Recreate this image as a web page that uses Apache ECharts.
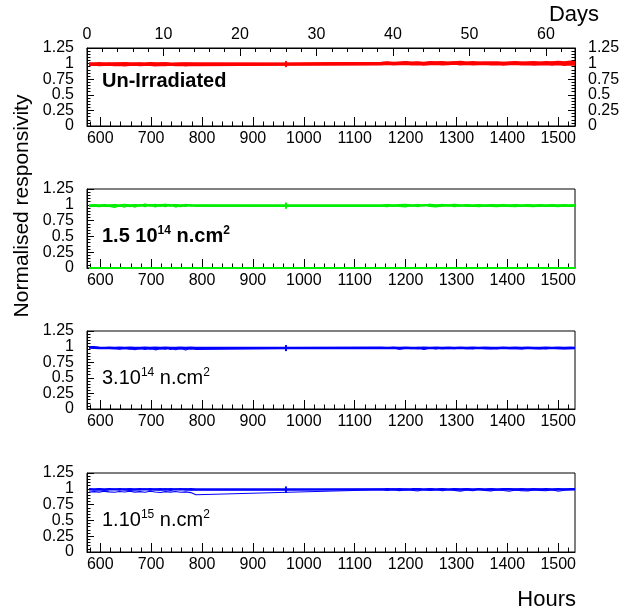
<!DOCTYPE html>
<html><head><meta charset="utf-8">
<script src="https://cdn.jsdelivr.net/npm/echarts@6/dist/echarts.min.js"></script>
<style>html,body{margin:0;padding:0;background:#fff}#c{width:626px;height:614px}</style>
</head><body><div id="c"></div><script>
// ---------------- DATA ----------------
// measurement times (hours): early run, one isolated point, late run
const hours = [578,588,598,608,618,628,638,648,658,668,678,688,698,708,718,728,738,748,758,768,778,788,
  965,
  1152,1164,1176,1188,1200,1212,1224,1236,1248,1260,1272,1284,1296,1308,1320,1332,1344,1356,1368,1380,1392,1404,1416,1428,1440,1452,1464,1476,1488,1500,1512,1524,1533];

// Un-Irradiated (red)
const red1 = [0.985,0.990,0.982,0.988,0.993,0.985,0.990,0.984,0.992,0.987,0.983,0.990,0.986,0.992,0.985,0.989,0.983,0.990,0.986,0.991,0.985,0.988,
  0.990,
  0.998,1.004,0.996,1.002,1.008,0.999,1.003,0.997,1.006,1.001,0.998,1.005,1.002,0.997,1.004,1.000,0.996,1.003,1.007,1.000,0.998,1.004,0.999,1.002,0.997,1.003,1.000,0.996,1.005,0.998,1.002,0.995,1.000];
const red2 = [0.996,1.000,0.994,0.999,1.003,0.995,1.001,0.997,0.993,1.002,0.998,0.994,1.001,0.996,1.003,0.997,0.993,1.000,0.996,1.002,0.995,0.999,
  0.995,
  1.006,1.012,1.004,1.010,1.015,1.007,1.011,1.003,1.009,1.014,1.006,1.010,1.017,1.008,1.012,1.005,1.011,1.008,1.013,1.006,1.010,1.004,1.009,1.012,1.005,1.008,1.011,1.004,1.010,1.015,1.006,1.018,1.008];
const red3 = [0.978,0.983,0.975,0.981,0.986,0.977,0.982,0.974,0.980,0.985,0.976,0.982,0.979,0.973,0.981,0.977,0.984,0.976,0.980,0.974,0.982,0.978,
  0.985,
  0.990,0.995,0.987,0.993,0.998,0.989,0.994,0.986,0.992,0.997,0.988,0.993,0.999,0.990,0.995,0.987,0.992,0.996,0.989,0.994,0.986,0.991,0.995,0.988,0.993,0.985,0.990,0.994,0.984,0.991,0.980,0.988,0.983];
const red4 = [1.002,0.997,1.005,1.000,0.995,1.003,0.998,1.006,1.001,0.996,1.004,0.999,1.007,1.002,0.997,1.005,1.000,0.996,1.003,0.998,1.004,1.000,
  1.000,
  1.012,1.018,1.010,1.016,1.022,1.013,1.019,1.011,1.024,1.017,1.021,1.014,1.020,1.026,1.016,1.022,1.015,1.019,1.013,1.018,1.012,1.017,1.021,1.014,1.019,1.023,1.016,1.024,1.018,1.027,1.020,1.030,1.022];

// 1.5e14 n/cm2 (green)
const green1 = [0.985,0.982,0.988,0.980,0.986,0.990,0.975,0.995,0.970,1.000,0.978,1.010,0.985,1.005,0.975,1.008,0.982,1.002,0.972,1.006,0.980,0.992,
  0.985,
  0.985,0.998,0.978,0.992,1.002,0.980,0.995,0.985,1.005,0.990,1.008,0.982,1.000,0.978,0.995,0.985,0.990,0.980,0.988,0.993,0.982,0.990,0.986,0.980,0.992,0.985,0.978,0.990,0.984,0.988,0.980,0.992,0.986];
const green2 = [0.975,0.978,0.972,0.980,0.974,0.960,0.985,0.965,0.995,0.962,0.998,0.970,1.002,0.968,0.995,0.972,1.000,0.965,0.990,0.975,0.998,0.978,
  0.980,
  0.978,0.970,0.990,0.975,0.968,0.992,0.972,1.000,0.975,0.968,0.985,0.996,0.970,0.988,0.975,0.980,0.972,0.985,0.976,0.970,0.982,0.975,0.970,0.984,0.976,0.972,0.985,0.975,0.980,0.970,0.982,0.975,0.978];
const green3 = [0.990,0.992,0.988,0.993,0.989,0.994,0.990,0.996,0.988,0.995,0.991,0.997,0.989,0.994,0.992,0.996,0.990,0.995,0.988,0.993,0.991,0.989,
  0.988,
  0.990,0.994,0.988,0.993,0.997,0.989,0.995,0.991,0.998,0.990,0.994,0.988,0.996,0.991,0.993,0.989,0.995,0.990,0.993,0.988,0.994,0.990,0.992,0.988,0.995,0.990,0.993,0.989,0.994,0.990,0.992,0.988,0.993];
const greenDeadHours = [578, 1533];
const greenDeadValues = [0, 0];

// 3e14 n/cm2 (blue)
const blueA1 = [1.000,0.998,0.985,0.975,0.970,0.978,0.965,0.980,0.960,0.975,0.962,0.982,0.958,0.978,0.965,0.985,0.955,0.975,0.962,0.985,0.958,0.970,
  0.975,
  0.975,0.970,0.988,0.965,0.980,0.972,0.990,0.960,0.985,0.970,0.978,0.965,0.982,0.972,0.978,0.968,0.980,0.972,0.976,0.968,0.978,0.972,0.975,0.968,0.976,0.970,0.975,0.968,0.977,0.971,0.975,0.970,0.975];
const blueA2 = [0.995,0.990,0.982,0.978,0.975,0.970,0.958,0.972,0.965,0.950,0.970,0.955,0.975,0.948,0.968,0.958,0.978,0.950,0.970,0.945,0.975,0.955,
  0.972,
  0.970,0.985,0.978,0.960,0.975,0.968,0.982,0.955,0.978,0.962,0.985,0.970,0.968,0.978,0.970,0.965,0.975,0.968,0.972,0.965,0.974,0.968,0.972,0.965,0.974,0.968,0.972,0.966,0.974,0.968,0.972,0.967,0.972];
const blueA3 = [0.986,0.983,0.979,0.977,0.980,0.976,0.979,0.978,0.981,0.976,0.978,0.980,0.975,0.979,0.977,0.981,0.976,0.978,0.980,0.975,0.979,0.977,
  0.978,
  0.979,0.977,0.981,0.976,0.980,0.978,0.975,0.980,0.977,0.982,0.976,0.979,0.978,0.981,0.975,0.979,0.977,0.980,0.976,0.978,0.981,0.977,0.979,0.975,0.980,0.978,0.976,0.981,0.977,0.979,0.976,0.980,0.978];

// 1e15 n/cm2 (blue)
const blueB1 = [0.950,0.955,0.948,0.960,0.952,0.945,0.958,0.950,0.962,0.948,0.955,0.945,0.960,0.950,0.942,0.955,0.948,0.958,0.945,0.952,0.940,0.905,
  null,
  0.985,0.975,0.990,0.970,0.985,0.978,0.965,0.988,0.975,0.990,0.968,0.985,0.975,0.962,0.982,0.970,0.988,0.975,0.965,0.985,0.972,0.960,0.980,0.970,0.965,0.982,0.975,0.968,0.985,0.960,0.978,0.985,0.990];
const blueB2 = [0.995,0.985,1.000,0.975,0.990,0.995,0.980,0.998,0.975,0.992,0.985,1.000,0.978,0.995,0.982,1.002,0.975,0.998,0.985,1.000,0.980,0.990,
  0.985,
  0.995,0.990,1.000,0.985,0.998,0.992,1.002,0.988,0.996,0.990,1.000,0.985,0.995,0.992,0.998,0.986,0.995,0.990,0.998,0.984,0.994,0.990,0.996,0.985,0.993,0.990,0.997,0.986,0.994,0.990,0.996,0.988,0.995];
const blueB3 = [0.992,0.990,0.994,0.989,0.993,0.991,0.995,0.990,0.993,0.989,0.994,0.991,0.995,0.990,0.993,0.989,0.994,0.991,0.995,0.990,0.992,0.990,
  0.990,
  0.991,0.993,0.989,0.994,0.990,0.992,0.995,0.990,0.993,0.989,0.994,0.991,0.993,0.990,0.995,0.991,0.993,0.989,0.994,0.990,0.992,0.994,0.990,0.993,0.989,0.994,0.991,0.993,0.990,0.994,0.991,0.993,0.992];

// tick labels
const hourTickLabels = [600,700,800,900,1000,1100,1200,1300,1400,1500];
const dayTickLabels = [0,10,20,30,40,50,60];
const yTickLabels = [0,0.25,0.5,0.75,1,1.25];
const panelLabels = ['Un-Irradiated', '1.5 10{14} n.cm{2}', '3.10{14} n.cm{2}', '1.10{15} n.cm{2}'];

// ---------------- LAYOUT / STYLE ----------------
const FONT = '"Liberation Sans", Arial, Helvetica, sans-serif';
const HOUR_MIN = 574, HOUR_MAX = 1533;
const DAY_MAX = 63.8;
const GL = 87, GR = 51;
const panelTops = [48, 189, 331, 473];
const panelHeights = [78, 79, 78, 79];
const RED = '#ff0000', GREEN = '#00ee00', BLUE = '#0000ff';

const hourMinor = [];
for (let h = 580; h <= 1520; h += 20) if (h % 100 !== 0) hourMinor.push(h);
const dayMinor = [];
for (let d = 2; d <= 62; d += 2) if (d % 10 !== 0) dayMinor.push(d);
// y labels split over two overlaid axes so that none is dropped as "overlapping"
const yLabelsEven = yTickLabels.filter((v, i) => i % 2 === 0);
const yLabelsOdd = yTickLabels.filter((v, i) => i % 2 === 1);

const grids = [], xAxes = [], yAxes = [], series = [];
const mainX = [], mainY = [];
const tickLbl = {fontSize: 16, color: '#000', fontFamily: FONT, hideOverlap: false, formatter: v => String(v)};
const black = {color: '#000', width: 1};

function yAxisDef(gi, pos, labels, withTicks) {
  return {type: 'value', gridIndex: gi, position: pos, min: 0, max: 1.25,
    axisLine: {show: withTicks, onZero: false, lineStyle: black},
    axisTick: {show: withTicks, inside: true, length: 7, customValues: yTickLabels, lineStyle: black},
    minorTick: {show: withTicks, splitNumber: 5, length: 3.5, lineStyle: black},
    axisLabel: Object.assign({show: true, margin: 13, customValues: labels, showMinLabel: true, showMaxLabel: true}, tickLbl),
    interval: 0.25,
    splitLine: {show: false}, minorSplitLine: {show: false}};
}

for (let p = 0; p < 4; p++) {
  const gMain = grids.length;
  grids.push({left: GL, right: GR, top: panelTops[p], height: panelHeights[p], show: true, borderColor: '#000', borderWidth: 1, backgroundColor: 'transparent'});
  const gMinor = grids.length;
  grids.push({left: GL, right: GR, top: panelTops[p], height: panelHeights[p], show: false});

  mainX[p] = xAxes.length;
  xAxes.push({type: 'value', gridIndex: gMain, position: 'bottom', min: HOUR_MIN, max: HOUR_MAX,
    axisLine: {show: true, onZero: false, lineStyle: black},
    axisTick: {show: true, inside: true, length: 9, customValues: hourTickLabels, lineStyle: black},
    axisLabel: Object.assign({show: true, margin: 5, customValues: hourTickLabels}, tickLbl),
    splitLine: {show: false}});
  xAxes.push({type: 'value', gridIndex: gMinor, position: 'bottom', min: HOUR_MIN, max: HOUR_MAX,
    axisLine: {show: false, onZero: false},
    axisTick: {show: true, inside: true, length: 4.5, customValues: hourMinor, lineStyle: black},
    axisLabel: {show: false}, splitLine: {show: false}});
  if (p === 0) {
    xAxes.push({type: 'value', gridIndex: gMinor, position: 'top', min: 0, max: DAY_MAX,
      axisLine: {show: false, onZero: false},
      axisTick: {show: true, inside: true, length: 4, customValues: dayMinor, lineStyle: black},
      axisLabel: {show: false}, splitLine: {show: false}});
    xAxes.push({type: 'value', gridIndex: gMain, position: 'top', min: 0, max: DAY_MAX,
      axisLine: {show: true, onZero: false, lineStyle: black},
      axisTick: {show: true, inside: true, length: 8, customValues: dayTickLabels, lineStyle: black},
      axisLabel: Object.assign({show: true, margin: 5, customValues: dayTickLabels}, tickLbl),
      splitLine: {show: false}});
  }
  mainY[p] = yAxes.length;
  yAxes.push(yAxisDef(gMain, 'left', yLabelsEven, true));
  yAxes.push(yAxisDef(gMinor, 'left', yLabelsOdd, false));
  if (p === 0) {
    yAxes.push(yAxisDef(gMain, 'right', yLabelsEven, true));
    yAxes.push(yAxisDef(gMinor, 'right', yLabelsOdd, false));
  }
}

function line(vals, p, color, width, hrs) {
  const hh = hrs || hours;
  return {type: 'line', xAxisIndex: mainX[p], yAxisIndex: mainY[p],
    data: hh.map((h, i) => [h, vals[i]]), showSymbol: false, symbol: 'none', connectNulls: true,
    lineStyle: {color: color, width: width}, itemStyle: {color: color}, silent: true, z: 3};
}
function marker(list, p, color) {
  const idx = hours.indexOf(965);
  return {type: 'scatter', xAxisIndex: mainX[p], yAxisIndex: mainY[p],
    data: list.filter(v => v[idx] != null).map(v => [hours[idx], v[idx]]),
    symbol: 'rect', symbolSize: [2, 6], itemStyle: {color: color}, silent: true, z: 4};
}

series.push(line(red3, 0, RED, 2.4), line(red1, 0, RED, 2.4), line(red2, 0, RED, 2.4), line(red4, 0, RED, 2.4));
series.push(marker([red1, red2], 0, RED));
series.push(line(green2, 1, GREEN, 1.3), line(green1, 1, GREEN, 1.3), line(green3, 1, GREEN, 2.4));
series.push(line(greenDeadValues, 1, GREEN, 2, greenDeadHours));
series.push(marker([green1, green3], 1, GREEN));
series.push(line(blueA2, 2, BLUE, 1.1), line(blueA1, 2, BLUE, 1.1), line(blueA3, 2, BLUE, 2.6));
series.push(marker([blueA1, blueA3], 2, BLUE));
series.push(line(blueB1, 3, BLUE, 1.1), line(blueB2, 3, BLUE, 1.1), line(blueB3, 3, BLUE, 2.4));
series.push(marker([blueB2, blueB3], 3, BLUE));

// rich labels: {xx} marks a superscript
function richText(s) {
  return s.split(/(\{[^}]*\})/).filter(t => t.length).map(t =>
    t[0] === '{' ? '{s|' + t.slice(1, -1) + '}' : '{n|' + t + '}').join('');
}
const labelY = [81, 236, 378, 520];
const labelBold = [true, true, false, false];
const graphics = [];
panelLabels.forEach((t, p) => {
  const w = labelBold[p] ? 'bold' : 'normal';
  graphics.push({type: 'text', x: 102, y: labelY[p], silent: true,
    style: {text: richText(t), verticalAlign: 'middle', align: 'left', fill: '#000',
      rich: {n: {fontSize: 20, fontWeight: w, fontFamily: FONT, lineHeight: 22, fill: '#000'},
             s: {fontSize: 12, fontWeight: w, fontFamily: FONT, lineHeight: 13, verticalAlign: 'top', fill: '#000'}}}});
});
graphics.push({type: 'text', x: 22, y: 206, rotation: Math.PI / 2, silent: true,
  style: {text: 'Normalised responsivity', font: '21px ' + FONT, fill: '#000', align: 'center', verticalAlign: 'middle'}});
graphics.push({type: 'text', x: 599, y: 15, silent: true,
  style: {text: 'Days', font: '22px ' + FONT, fill: '#000', align: 'right', verticalAlign: 'middle'}});
graphics.push({type: 'text', x: 576, y: 600, silent: true,
  style: {text: 'Hours', font: '22px ' + FONT, fill: '#000', align: 'right', verticalAlign: 'middle'}});

const chart = echarts.init(document.getElementById('c'), null, {renderer: 'canvas'});
chart.setOption({
  animation: false,
  backgroundColor: '#fff',
  textStyle: {fontFamily: FONT},
  grid: grids, xAxis: xAxes, yAxis: yAxes, series: series, graphic: graphics
});
</script></body></html>
